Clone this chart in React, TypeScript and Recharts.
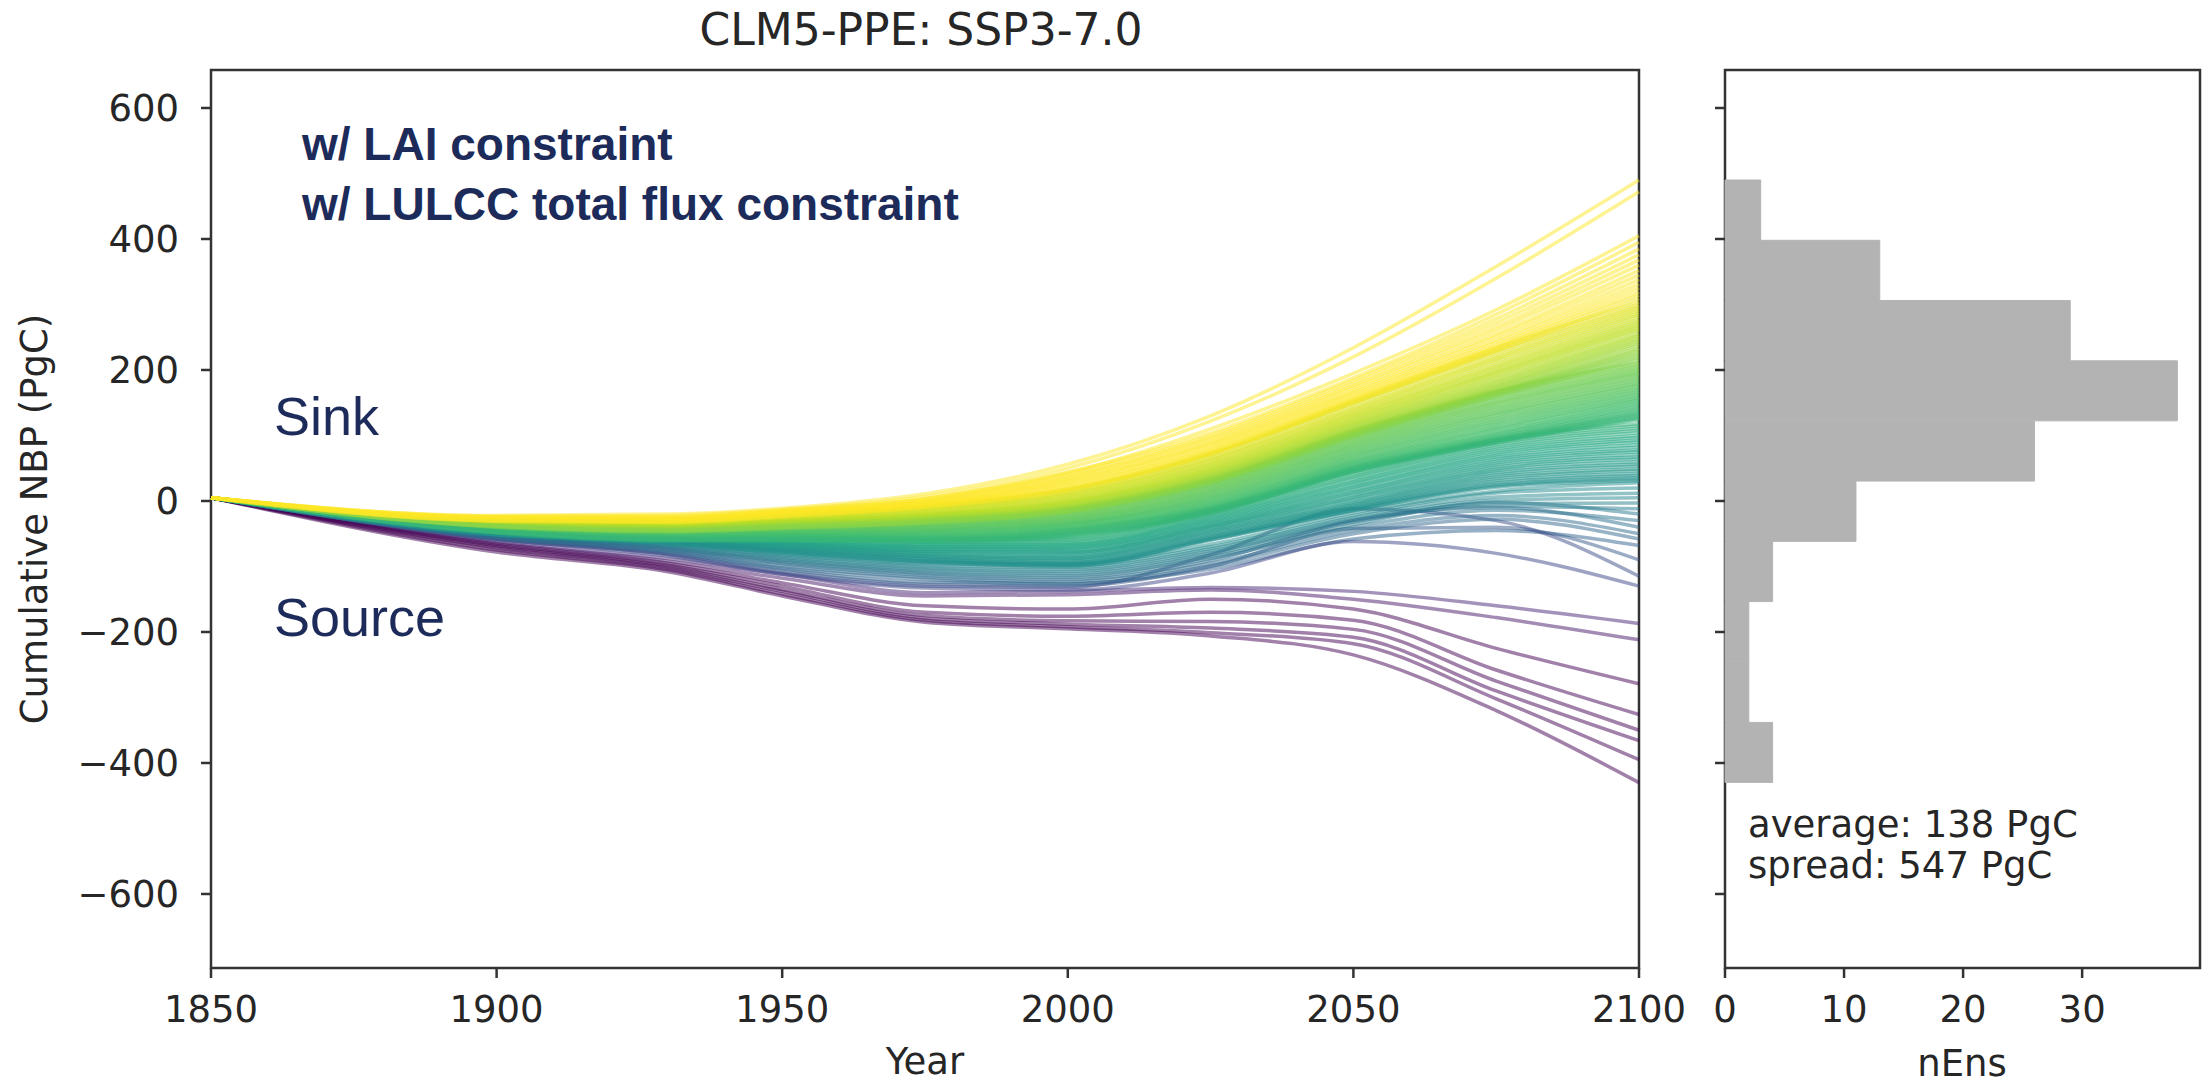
import { LineChart, Line, XAxis, YAxis, ReferenceArea, BarChart, Bar } from 'recharts'

// sample years for each ensemble trajectory
const YEARS = [1850, 1900, 1930, 1950, 1975, 2000, 2025, 2050, 2075, 2100]

// cumulative NBP (PgC) per ensemble member at YEARS
const membersPurple = [
    [5, -62, -88, -112, -140, -138, -132, -138, -160, -187],
    [5, -64, -92, -118, -145, -143, -136, -150, -178, -212],
    [5, -66, -95, -125, -160, -165, -150, -165, -225, -279],
    [5, -68, -98, -130, -170, -176, -170, -182, -258, -326],
    [5, -70, -100, -135, -175, -183, -184, -196, -275, -350],
    [5, -72, -103, -138, -179, -188, -194, -208, -290, -366],
    [5, -75, -105, -142, -182, -192, -201, -218, -302, -395],
    [5, -78, -108, -145, -185, -195, -206, -235, -320, -430],
]

const membersBlue = [
    [5, -57, -79, -104, -124, -126, -104, -58, -45, -68],
    [5, -58, -81, -107, -127, -130, -100, -42, -40, -90],
    [5, -59, -82, -110, -130, -132, -82, -12, -30, -115],
    [5, -58, -84, -112, -133, -136, -110, -62, -80, -130],
    [5, -52, -64, -80, -94, -96, -66, -18, 15, 28],
    [5, -53, -66, -82, -96, -99, -70, -22, 12, 20],
    [5, -52, -67, -84, -99, -102, -73, -25, 6, 12],
    [5, -54, -68, -86, -101, -105, -76, -28, 1, 5],
    [5, -53, -70, -88, -104, -108, -79, -30, -4, -3],
    [5, -55, -71, -90, -106, -111, -82, -32, -8, -12],
    [5, -54, -72, -92, -109, -114, -85, -36, -2, -20],
    [5, -56, -73, -94, -111, -117, -88, -40, -14, -30],
    [5, -55, -75, -96, -114, -120, -91, -30, -10, -40],
    [5, -57, -76, -99, -117, -123, -95, -45, -22, -50],
    [5, -56, -78, -102, -120, -127, -99, -50, -28, -58],
]

const membersTeal = [
    [5, -43, -51, -52, -58, -56, -12, 44, 94, 118],
    [5, -44, -52, -53, -60, -58, -15, 41, 91, 115],
    [5, -43, -53, -55, -61, -60, -17, 38, 88, 111],
    [5, -45, -54, -56, -63, -62, -20, 36, 85, 108],
    [5, -44, -53, -57, -64, -64, -22, 33, 82, 104],
    [5, -46, -55, -58, -66, -66, -24, 30, 79, 100],
    [5, -45, -56, -60, -67, -67, -26, 28, 76, 97],
    [5, -46, -55, -61, -69, -69, -28, 25, 73, 93],
    [5, -47, -57, -62, -70, -71, -30, 22, 70, 90],
    [5, -46, -56, -63, -71, -72, -32, 20, 67, 86],
    [5, -47, -58, -64, -73, -74, -34, 17, 64, 82],
    [5, -48, -57, -65, -74, -76, -36, 14, 61, 78],
    [5, -47, -59, -66, -76, -78, -38, 12, 58, 75],
    [5, -48, -58, -67, -77, -79, -39, 9, 55, 71],
    [5, -49, -60, -68, -78, -81, -41, 6, 52, 67],
    [5, -48, -59, -69, -80, -83, -43, 4, 49, 64],
    [5, -49, -61, -70, -81, -85, -45, 1, 46, 60],
    [5, -50, -60, -71, -83, -87, -47, -2, 43, 56],
    [5, -49, -62, -72, -84, -88, -49, -4, 40, 53],
    [5, -50, -61, -73, -85, -90, -51, -6, 37, 49],
    [5, -51, -63, -74, -87, -92, -53, -8, 34, 46],
    [5, -50, -62, -75, -88, -94, -55, -10, 31, 42],
    [5, -51, -64, -76, -89, -95, -56, -11, 28, 39],
    [5, -52, -63, -77, -91, -97, -58, -13, 25, 36],
    [5, -51, -65, -78, -92, -98, -59, -14, 23, 33],
    [5, -52, -64, -79, -93, -100, -60, -15, 21, 31],
]

const membersGreen = [
    [5, -35, -40, -32, -26, -10, 35, 108, 168, 212],
    [5, -36, -42, -34, -28, -12, 33, 105, 165, 210],
    [5, -35, -41, -35, -29, -13, 31, 103, 162, 207],
    [5, -37, -43, -36, -30, -15, 30, 101, 160, 205],
    [5, -36, -44, -37, -31, -16, 28, 99, 157, 202],
    [5, -38, -45, -38, -32, -17, 26, 97, 155, 200],
    [5, -37, -44, -39, -33, -19, 25, 95, 152, 197],
    [5, -38, -46, -40, -34, -20, 23, 93, 150, 195],
    [5, -39, -45, -41, -35, -21, 22, 91, 148, 193],
    [5, -38, -47, -42, -36, -23, 20, 89, 145, 190],
    [5, -40, -46, -41, -37, -24, 18, 87, 143, 188],
    [5, -39, -48, -43, -38, -25, 17, 85, 140, 185],
    [5, -40, -47, -44, -39, -27, 15, 83, 138, 183],
    [5, -41, -49, -45, -40, -28, 13, 81, 135, 180],
    [5, -40, -48, -44, -41, -29, 12, 79, 133, 178],
    [5, -41, -50, -46, -42, -30, 10, 77, 131, 176],
    [5, -42, -49, -47, -43, -32, 8, 75, 128, 173],
    [5, -41, -51, -46, -44, -33, 7, 73, 126, 171],
    [5, -42, -50, -48, -45, -34, 5, 71, 123, 168],
    [5, -43, -52, -49, -46, -35, 3, 69, 121, 166],
    [5, -42, -51, -48, -47, -36, 2, 67, 118, 163],
    [5, -43, -53, -50, -48, -37, 0, 65, 116, 161],
    [5, -44, -52, -51, -49, -38, -2, 63, 113, 158],
    [5, -43, -54, -50, -50, -40, -3, 61, 111, 156],
    [5, -44, -53, -52, -51, -41, -5, 60, 109, 154],
    [5, -45, -55, -53, -52, -42, -6, 58, 106, 151],
    [5, -44, -54, -52, -53, -43, -8, 56, 104, 149],
    [5, -45, -56, -54, -54, -44, -9, 55, 102, 146],
    [5, -46, -55, -55, -55, -45, -10, 53, 100, 144],
    [5, -45, -57, -54, -56, -46, -11, 52, 98, 141],
    [5, -46, -56, -56, -57, -47, -12, 51, 97, 139],
    [5, -47, -58, -57, -58, -48, -13, 50, 95, 136],
    [5, -46, -57, -56, -57, -49, -14, 49, 94, 134],
    [5, -47, -59, -58, -59, -50, -15, 48, 93, 132],
    [5, -48, -58, -59, -60, -51, -16, 47, 92, 130],
    [5, -47, -60, -58, -59, -52, -17, 46, 91, 128],
    [5, -48, -59, -60, -61, -53, -18, 45, 90, 126],
    [5, -49, -61, -61, -62, -55, -19, 44, 89, 124],
]

const membersLime = [
    [5, -28, -30, -20, -6, 19, 74, 154, 234, 304],
    [5, -30, -33, -23, -9, 16, 70, 150, 229, 300],
    [5, -29, -32, -22, -8, 17, 71, 149, 226, 297],
    [5, -31, -34, -25, -11, 13, 66, 145, 222, 294],
    [5, -30, -33, -24, -12, 12, 65, 142, 219, 291],
    [5, -32, -36, -27, -14, 9, 62, 139, 216, 288],
    [5, -31, -35, -26, -13, 10, 61, 137, 213, 285],
    [5, -33, -37, -28, -15, 7, 58, 134, 209, 282],
    [5, -32, -36, -29, -17, 5, 56, 132, 206, 278],
    [5, -34, -38, -30, -18, 4, 55, 130, 203, 275],
    [5, -33, -37, -29, -19, 2, 52, 128, 200, 272],
    [5, -35, -39, -31, -20, 0, 50, 125, 197, 269],
    [5, -34, -38, -32, -21, -1, 49, 124, 195, 266],
    [5, -33, -39, -31, -22, -2, 47, 121, 192, 263],
    [5, -35, -40, -33, -23, -4, 45, 119, 189, 260],
    [5, -34, -39, -32, -22, -3, 44, 118, 186, 256],
    [5, -36, -41, -34, -24, -6, 42, 115, 183, 253],
    [5, -35, -40, -33, -25, -7, 41, 114, 181, 250],
    [5, -36, -42, -35, -26, -8, 39, 112, 178, 247],
    [5, -37, -41, -36, -27, -9, 38, 110, 176, 244],
    [5, -36, -43, -35, -28, -10, 37, 109, 174, 241],
    [5, -37, -42, -37, -27, -11, 35, 107, 172, 238],
    [5, -38, -44, -38, -29, -12, 34, 106, 170, 234],
    [5, -37, -43, -37, -30, -13, 33, 105, 168, 231],
    [5, -38, -45, -39, -31, -14, 32, 104, 167, 228],
    [5, -39, -44, -38, -30, -13, 31, 103, 166, 225],
    [5, -38, -46, -40, -32, -15, 30, 102, 165, 222],
    [5, -39, -45, -41, -33, -16, 29, 100, 163, 219],
    [5, -40, -47, -42, -34, -17, 28, 98, 160, 216],
]

const membersYellow = [
    [5, -24, -25, -14, 4, 44, 104, 188, 285, 395],
    [5, -26, -27, -16, 2, 41, 100, 184, 278, 385],
    [5, -25, -26, -17, 0, 38, 97, 180, 272, 376],
    [5, -27, -28, -18, -1, 36, 94, 176, 266, 368],
    [5, -26, -27, -17, -2, 34, 91, 173, 261, 360],
    [5, -28, -29, -19, -4, 31, 88, 169, 255, 352],
    [5, -27, -28, -18, -3, 30, 86, 166, 251, 345],
    [5, -29, -30, -20, -5, 27, 83, 163, 246, 338],
    [5, -28, -30, -21, -6, 25, 80, 160, 242, 331],
    [5, -30, -31, -22, -7, 23, 78, 157, 238, 325],
    [5, -29, -31, -21, -8, 20, 75, 155, 235, 319],
    [5, -30, -32, -23, -9, 18, 73, 152, 232, 314],
    [5, -31, -33, -24, -10, 16, 71, 150, 229, 309],
    [5, -22, -20, -11, 11, 56, 130, 234, 358, 490],
    [5, -23, -22, -13, 7, 50, 122, 220, 340, 472],
    [5, -25, -24, -15, 3, 43, 110, 195, 292, 405],
]

const MEMBERS = [...membersPurple, ...membersBlue, ...membersTeal, ...membersGreen, ...membersLime, ...membersYellow]

// histogram of year-2100 values (right panel)
const BIN_EDGES = [-430, -338, -246, -154, -62, 30, 122, 214, 306, 398, 490]
const BIN_COUNTS = [4, 2, 2, 4, 11, 26, 38, 29, 13, 3]

const Y_TICKS = [-600, -400, -200, 0, 200, 400, 600]
const X_TICKS = [1850, 1900, 1950, 2000, 2050, 2100]
const N_TICKS = [0, 10, 20, 30]

const Y_DOMAIN: [number, number] = [-713, 658]

const lineData = YEARS.map((year, j) => {
    const row: Record<string, number> = { year }
    MEMBERS.forEach((m, i) => { row[`m${i}`] = m[j] })
    return row
})

const histData = BIN_COUNTS.map((count, i) => ({
    mid: (BIN_EDGES[i] + BIN_EDGES[i + 1]) / 2,
    count,
}))

const VIRIDIS = ['#440154', '#482475', '#414487', '#355f8d', '#2a788e', '#21918c', '#22a884', '#44bf70', '#7ad151', '#bddf26', '#fde725']

function hex(c: string) {
    return [1, 3, 5].map((k) => parseInt(c.slice(k, k + 2), 16))
}

function viridis(t: number) {
    const x = Math.max(0, Math.min(1, t)) * (VIRIDIS.length - 1)
    const i = Math.min(Math.floor(x), VIRIDIS.length - 2)
    const f = x - i
    const a = hex(VIRIDIS[i])
    const b = hex(VIRIDIS[i + 1])
    const c = a.map((v, k) => Math.round(v + (b[k] - v) * f))
    return `rgb(${c[0]},${c[1]},${c[2]})`
}

const colorFor = (final: number) => viridis((final + 250) / 570)

const minus = (v: number) => String(v).replace('-', '\u2212')

const tickFont = { fill: '#262626', fontSize: 37, fontFamily: 'DejaVu Sans' }
const tickLine = { stroke: '#333', strokeWidth: 2.5 }
const navy = '#1c2b5a'

export default function App() {
    return (
        <div style={{ position: 'absolute', left: 0, top: 0, width: 2202, height: 1084, background: '#fff', overflow: 'hidden' }}>
            <div style={{ position: 'absolute', left: 0, top: 0 }}>
                <LineChart width={1700} height={1084} data={lineData} margin={{ top: 70, right: 61, left: 0, bottom: 0 }}>
                    <XAxis
                        dataKey="year"
                        type="number"
                        domain={[1850, 2100]}
                        ticks={X_TICKS}
                        interval={0}
                        height={116}
                        axisLine={false}
                        tickLine={tickLine}
                        tickSize={10}
                        tickMargin={18}
                        tick={tickFont}
                    />
                    <YAxis
                        type="number"
                        domain={Y_DOMAIN}
                        allowDataOverflow
                        ticks={Y_TICKS}
                        interval={0}
                        width={211}
                        axisLine={false}
                        tickLine={tickLine}
                        tickSize={10}
                        tickMargin={22}
                        tick={tickFont}
                        tickFormatter={minus}
                    />
                    <ReferenceArea x1={1850} x2={2100} y1={Y_DOMAIN[0]} y2={Y_DOMAIN[1]} fill="none" stroke="#333" strokeWidth={2.5} />
                    {MEMBERS.map((m, i) => (
                        <Line
                            key={i}
                            dataKey={`m${i}`}
                            type="monotone"
                            stroke={colorFor(m[m.length - 1])}
                            strokeWidth={3.5}
                            strokeOpacity={0.5}
                            dot={false}
                            activeDot={false}
                            isAnimationActive={false}
                        />
                    ))}
                </LineChart>
            </div>
            <div style={{ position: 'absolute', left: 1625, top: 0 }}>
                <BarChart
                    layout="vertical"
                    width={577}
                    height={1084}
                    data={histData}
                    margin={{ top: 70, right: 2, left: 0, bottom: 0 }}
                    barCategoryGap={0}
                    barGap={0}
                >
                    <XAxis
                        type="number"
                        domain={[0, 39.9]}
                        ticks={N_TICKS}
                        interval={0}
                        height={116}
                        axisLine={false}
                        tickLine={tickLine}
                        tickSize={10}
                        tickMargin={18}
                        tick={tickFont}
                    />
                    <YAxis
                        type="number"
                        dataKey="mid"
                        domain={Y_DOMAIN}
                        reversed
                        allowDataOverflow
                        ticks={Y_TICKS}
                        interval={0}
                        width={100}
                        axisLine={false}
                        tickLine={tickLine}
                        tickSize={10}
                        tickFormatter={() => ''}
                    />
                    <Bar dataKey="count" fill="#b3b3b3" stroke="#b3b3b3" strokeWidth={1} isAnimationActive={false} />
                    <ReferenceArea x1={0} x2={39.9} y1={Y_DOMAIN[0]} y2={Y_DOMAIN[1]} fill="none" stroke="#333" strokeWidth={2.5} />
                </BarChart>
            </div>
            <svg width={2202} height={1084} style={{ position: 'absolute', left: 0, top: 0, pointerEvents: 'none' }}>
                <g fontFamily="DejaVu Sans" fill="#262626">
                    <text x={921} y={45} fontSize={44} textAnchor="middle">CLM5-PPE: SSP3-7.0</text>
                    <text x={925} y={1074} fontSize={37} textAnchor="middle">Year</text>
                    <text x={1962} y={1076} fontSize={37} textAnchor="middle">nEns</text>
                    <text x={47} y={519} fontSize={37} textAnchor="middle" transform="rotate(-90 47 519)">Cumulative NBP (PgC)</text>
                    <text x={1748} y={837} fontSize={37}>average: 138 PgC</text>
                    <text x={1748} y={878} fontSize={37}>spread: 547 PgC</text>
                </g>
                <g fontFamily="Liberation Sans, Arial" fill={navy}>
                    <text x={302} y={160} fontSize={46} fontWeight="bold">w/ LAI constraint</text>
                    <text x={302} y={220} fontSize={46} fontWeight="bold">w/ LULCC total flux constraint</text>
                    <text x={274} y={435} fontSize={54}>Sink</text>
                    <text x={274} y={636} fontSize={54}>Source</text>
                </g>
            </svg>
        </div>
    )
}
